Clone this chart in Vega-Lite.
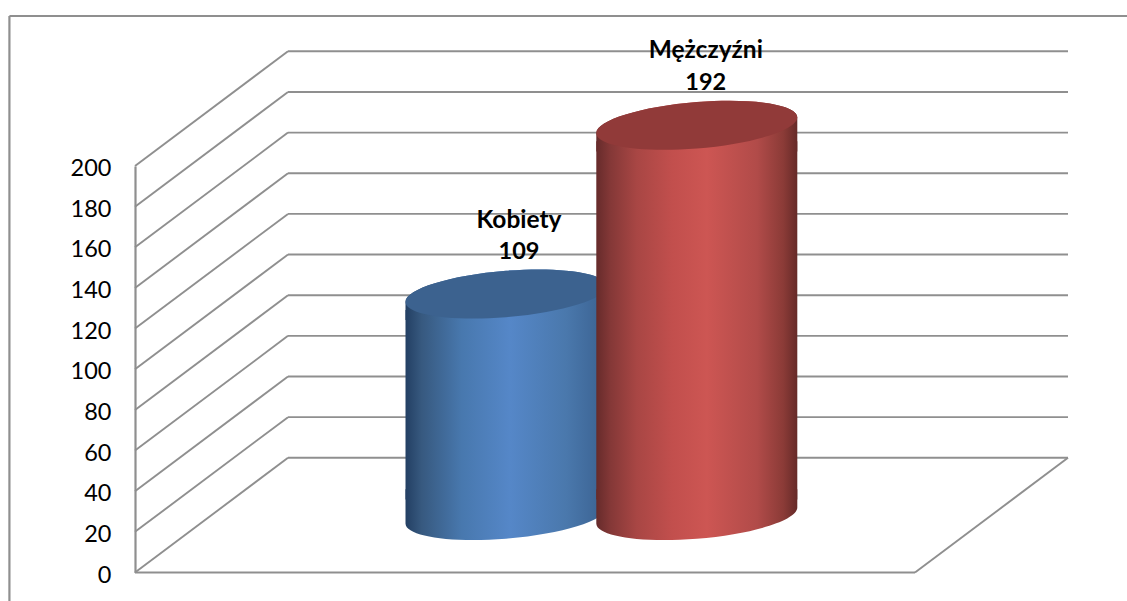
{
"$schema":"https://vega.github.io/schema/vega-lite/v6.json",
"width":780,"height":406.5,
"autosize":{"type":"none"},
"padding":{"left":135,"top":166,"right":212,"bottom":28.5},
"background":"white",
"view":{"stroke":null},
"datasets":{
 "siatka":[{"wartosc":0},{"wartosc":20},{"wartosc":40},{"wartosc":60},{"wartosc":80},{"wartosc":100},{"wartosc":120},{"wartosc":140},{"wartosc":160},{"wartosc":180},{"wartosc":200}],
 "osoby":[{"plec":"Kobiety","liczba":109},{"plec":"Mężczyźni","liczba":192}]
},
"data":{"name":"osoby"},
"resolve":{"scale":{"x":"independent"}},
"layer":[
 {
  "data":{"name":"siatka"},
  "layer":[
   {"mark":{"type":"rule","color":"#8f8f8f","strokeWidth":1.9,"x2Offset":153,"y2Offset":-114.7},
    "encoding":{"x":{"datum":0,"type":"quantitative","scale":{"domain":[0,100]},"axis":null},"x2":{"datum":0},
     "y":{"field":"wartosc","type":"quantitative","scale":{"domain":[0,200]},"axis":{"values":[0,20,40,60,80,100,120,140,160,180,200],"title":null,"grid":false,"ticks":false,"domain":true,"domainColor":"#8f8f8f","domainWidth":2.2,"labelFont":"Lato","labelFontSize":23.5,"labelColor":"#000000","labelPadding":24,"labelOffset":2.5}},
     "y2":{"field":"wartosc"}}},
   {"mark":{"type":"rule","color":"#8f8f8f","strokeWidth":1.9,"xOffset":153,"x2Offset":153,"yOffset":-114.7},
    "encoding":{"x":{"datum":0,"type":"quantitative","scale":{"domain":[0,100]},"axis":null},"x2":{"datum":100},
     "y":{"field":"wartosc","type":"quantitative"}}},
   {"transform":[{"filter":"datum.wartosc===0"}],
    "layer":[
     {"mark":{"type":"rule","color":"#8f8f8f","strokeWidth":2.2},
      "encoding":{"x":{"datum":0,"type":"quantitative","scale":{"domain":[0,100]},"axis":null},"x2":{"datum":100},"y":{"field":"wartosc","type":"quantitative"}}},
     {"mark":{"type":"rule","color":"#8f8f8f","strokeWidth":1.9,"x2Offset":153,"y2Offset":-114.7},
      "encoding":{"x":{"datum":100,"type":"quantitative","scale":{"domain":[0,100]},"axis":null},"x2":{"datum":100},"y":{"field":"wartosc","type":"quantitative"},"y2":{"field":"wartosc"}}},
     {"mark":{"type":"rule","color":"#8f8f8f","strokeWidth":2.2},
      "encoding":{"x":{"datum":-16.1,"type":"quantitative","scale":{"domain":[0,100]},"axis":null},"y":{"datum":-15,"type":"quantitative"},"y2":{"datum":273.8}}},
     {"mark":{"type":"rule","color":"#8f8f8f","strokeWidth":2.2},
      "encoding":{"x":{"datum":-16.1,"type":"quantitative","scale":{"domain":[0,100]},"axis":null},"x2":{"datum":128},"y":{"datum":273.8,"type":"quantitative"}}}
    ]}
  ]
 },
 {
  "encoding":{"x":{"field":"plec","type":"nominal","scale":{"type":"point","domain":["Kobiety","Mężczyźni"],"range":[371,561.8],"padding":0},"axis":null}},
  "layer":[
   {"transform":[{"filter":"datum.plec==='Kobiety'"}],
    "layer":[
     {"mark":{"type":"point","filled":true,"opacity":1,"size":40401,"yOffset":-57,"strokeWidth":0,"shape":"M1,-0.0796 C1,0.0479 0.5523,0.1868 0,0.2308 C-0.5523,0.2748 -1,0.2071 -1,0.0796 L-1,-0.26 L1,-0.26 Z",
       "fill":{"gradient":"linear","x1":0,"y1":0,"x2":1,"y2":0,"stops":[{"offset":0,"color":"#233f63"},{"offset":0.08,"color":"#37597f"},{"offset":0.28,"color":"#4878ae"},{"offset":0.52,"color":"#5587c8"},{"offset":0.8,"color":"#4a78ac"},{"offset":1,"color":"#3a6190"}]}},
      "encoding":{"y":{"datum":0,"type":"quantitative"}}},
     {"mark":{"type":"bar","width":201,"yOffset":-41,"y2Offset":-73,
       "fill":{"gradient":"linear","x1":0,"y1":0,"x2":1,"y2":0,"stops":[{"offset":0,"color":"#233f63"},{"offset":0.08,"color":"#37597f"},{"offset":0.28,"color":"#4878ae"},{"offset":0.52,"color":"#5587c8"},{"offset":0.8,"color":"#4a78ac"},{"offset":1,"color":"#3a6190"}]}},
      "encoding":{"y":{"field":"liczba","type":"quantitative","stack":null},"y2":{"datum":0}}},
     {"mark":{"type":"point","filled":true,"opacity":1,"size":40401,"yOffset":-57,"strokeWidth":0,"shape":"M-1,0.0796 C-1,-0.0479 -0.5523,-0.1868 0,-0.2308 C0.5523,-0.2748 1,-0.2071 1,-0.0796 L1,0.26 L-1,0.26 Z",
       "fill":{"gradient":"linear","x1":0,"y1":0,"x2":1,"y2":0,"stops":[{"offset":0,"color":"#233f63"},{"offset":0.08,"color":"#37597f"},{"offset":0.28,"color":"#4878ae"},{"offset":0.52,"color":"#5587c8"},{"offset":0.8,"color":"#4a78ac"},{"offset":1,"color":"#3a6190"}]}},
      "encoding":{"y":{"field":"liczba","type":"quantitative"}}},
     {"mark":{"type":"point","filled":true,"opacity":1,"size":40401,"yOffset":-57,"strokeWidth":0,"fill":"#3c628f","shape":"M1,-0.0796 C1,0.0479 0.5523,0.1868 0,0.2308 C-0.5523,0.2748 -1,0.2071 -1,0.0796 C-1,-0.0479 -0.5523,-0.1868 0,-0.2308 C0.5523,-0.2748 1,-0.2071 1,-0.0796 Z"},
      "encoding":{"y":{"field":"liczba","type":"quantitative"}}},
     {"mark":{"type":"text","font":"Lato","fontWeight":"bold","fontSize":24.5,"color":"#000000","baseline":"middle","yOffset":-130,"dx":13},
      "encoding":{"y":{"field":"liczba","type":"quantitative"},"text":{"field":"plec"}}},
     {"mark":{"type":"text","font":"Lato","fontWeight":"bold","fontSize":23.5,"color":"#000000","baseline":"middle","yOffset":-99,"dx":13},
      "encoding":{"y":{"field":"liczba","type":"quantitative"},"text":{"field":"liczba","type":"quantitative"}}}
    ]},
   {"transform":[{"filter":"datum.plec==='Mężczyźni'"}],
    "layer":[
     {"mark":{"type":"point","filled":true,"opacity":1,"size":40401,"yOffset":-57,"strokeWidth":0,"shape":"M1,-0.0796 C1,0.0479 0.5523,0.1868 0,0.2308 C-0.5523,0.2748 -1,0.2071 -1,0.0796 L-1,-0.26 L1,-0.26 Z",
       "fill":{"gradient":"linear","x1":0,"y1":0,"x2":1,"y2":0,"stops":[{"offset":0,"color":"#662b2b"},{"offset":0.07,"color":"#843837"},{"offset":0.2,"color":"#a84644"},{"offset":0.38,"color":"#c24f4d"},{"offset":0.55,"color":"#cd5653"},{"offset":0.8,"color":"#b14b49"},{"offset":0.93,"color":"#8b3b37"},{"offset":1,"color":"#662a28"}]}},
      "encoding":{"y":{"datum":0,"type":"quantitative"}}},
     {"mark":{"type":"bar","width":201,"yOffset":-41,"y2Offset":-73,
       "fill":{"gradient":"linear","x1":0,"y1":0,"x2":1,"y2":0,"stops":[{"offset":0,"color":"#662b2b"},{"offset":0.07,"color":"#843837"},{"offset":0.2,"color":"#a84644"},{"offset":0.38,"color":"#c24f4d"},{"offset":0.55,"color":"#cd5653"},{"offset":0.8,"color":"#b14b49"},{"offset":0.93,"color":"#8b3b37"},{"offset":1,"color":"#662a28"}]}},
      "encoding":{"y":{"field":"liczba","type":"quantitative","stack":null},"y2":{"datum":0}}},
     {"mark":{"type":"point","filled":true,"opacity":1,"size":40401,"yOffset":-57,"strokeWidth":0,"shape":"M-1,0.0796 C-1,-0.0479 -0.5523,-0.1868 0,-0.2308 C0.5523,-0.2748 1,-0.2071 1,-0.0796 L1,0.26 L-1,0.26 Z",
       "fill":{"gradient":"linear","x1":0,"y1":0,"x2":1,"y2":0,"stops":[{"offset":0,"color":"#662b2b"},{"offset":0.07,"color":"#843837"},{"offset":0.2,"color":"#a84644"},{"offset":0.38,"color":"#c24f4d"},{"offset":0.55,"color":"#cd5653"},{"offset":0.8,"color":"#b14b49"},{"offset":0.93,"color":"#8b3b37"},{"offset":1,"color":"#662a28"}]}},
      "encoding":{"y":{"field":"liczba","type":"quantitative"}}},
     {"mark":{"type":"point","filled":true,"opacity":1,"size":40401,"yOffset":-57,"strokeWidth":0,"fill":"#913a39","shape":"M1,-0.0796 C1,0.0479 0.5523,0.1868 0,0.2308 C-0.5523,0.2748 -1,0.2071 -1,0.0796 C-1,-0.0479 -0.5523,-0.1868 0,-0.2308 C0.5523,-0.2748 1,-0.2071 1,-0.0796 Z"},
      "encoding":{"y":{"field":"liczba","type":"quantitative"}}},
     {"mark":{"type":"text","font":"Lato","fontWeight":"bold","fontSize":24.5,"color":"#000000","baseline":"middle","yOffset":-131,"dx":9},
      "encoding":{"y":{"field":"liczba","type":"quantitative"},"text":{"field":"plec"}}},
     {"mark":{"type":"text","font":"Lato","fontWeight":"bold","fontSize":23.5,"color":"#000000","baseline":"middle","yOffset":-99,"dx":9},
      "encoding":{"y":{"field":"liczba","type":"quantitative"},"text":{"field":"liczba","type":"quantitative"}}}
    ]}
  ]
 }
]
}
